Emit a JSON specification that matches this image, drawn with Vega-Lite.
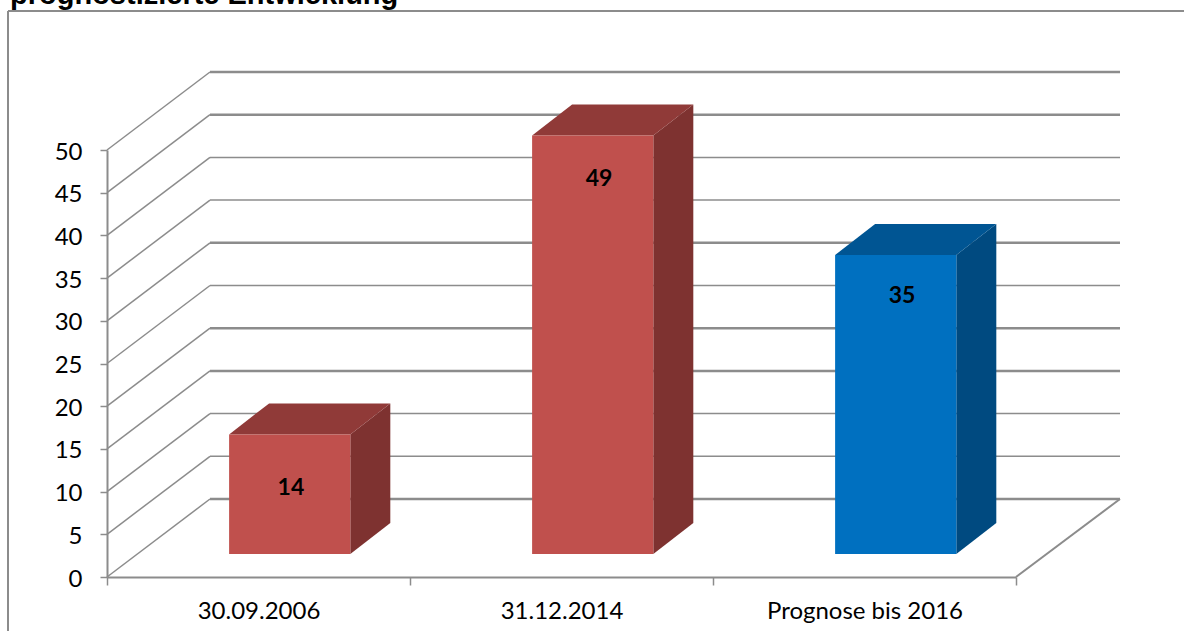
{
  "$schema": "https://vega.github.io/schema/vega-lite/v6.json",
  "autosize": {"type": "none"},
  "padding": {"left": 107, "top": 150, "right": 168, "bottom": 54},
  "width": 909,
  "height": 427,
  "background": "white",
  "config": {"view": {"stroke": null}},
  "datasets": {
    "bars": [
      {"category": "30.09.2006", "value": 14, "group": "Ist"},
      {"category": "31.12.2014", "value": 49, "group": "Ist"},
      {"category": "Prognose bis 2016", "value": 35, "group": "Prognose"}
    ],
    "ticks": [
      {"tick": 0}, {"tick": 5}, {"tick": 10}, {"tick": 15}, {"tick": 20}, {"tick": 25},
      {"tick": 30}, {"tick": 35}, {"tick": 40}, {"tick": 45}, {"tick": 50}
    ]
  },
  "resolve": {"scale": {"color": "independent"}},
  "layer": [
    {
      "data": {"name": "ticks"},
      "mark": {"type": "rule", "color": "#8c8c8c", "x2Offset": 103, "y2Offset": -78, "strokeWidth": 1.5},
      "encoding": {
        "x": {"datum": 0, "type": "quantitative", "scale": {"domain": [0, 3], "nice": false, "zero": false},
          "axis": {"title": null, "grid": false, "values": [0, 0.5, 1, 1.5, 2, 2.5, 3], "domainColor": "#8c8c8c", "domainWidth": 2, "tickColor": "#8c8c8c", "tickWidth": 1.5, "tickSize": 8,
            "tickOpacity": {"condition": {"test": "datum.value % 1 !== 0", "value": 0}, "value": 1},
            "labelExpr": "datum.value === 0.5 ? '30.09.2006' : datum.value === 1.5 ? '31.12.2014' : datum.value === 2.5 ? 'Prognose bis 2016' : ''",
            "labelFont": "Lato", "labelFontSize": 24, "labelColor": "#000000", "labelPadding": 14, "labelLimit": 400, "labelOverlap": false, "labelBound": false, "labelFlush": false}},
        "x2": {"datum": 0},
        "y": {"field": "tick", "type": "quantitative", "scale": {"domain": [0, 50], "nice": false},
          "axis": {"title": null, "grid": false, "values": [0, 5, 10, 15, 20, 25, 30, 35, 40, 45, 50], "domainColor": "#8c8c8c", "domainWidth": 2, "tickColor": "#8c8c8c", "tickWidth": 1.5, "tickSize": 7,
            "labelFont": "Lato", "labelFontSize": 24, "labelColor": "#000000", "labelPadding": 18, "labelOffset": 2}},
        "y2": {"field": "tick"}
      }
    },
    {
      "data": {"name": "ticks"},
      "mark": {"type": "rule", "color": "#8c8c8c", "xOffset": 103, "x2Offset": 104, "yOffset": -78, "y2Offset": -78},
      "encoding": {
        "x": {"datum": 0, "type": "quantitative"},
        "x2": {"datum": 3},
        "y": {"field": "tick", "type": "quantitative"},
        "strokeWidth": {"condition": {"test": "indexof([0, 15, 20, 30, 45, 50], datum.tick) >= 0", "value": 2.5}, "value": 1.5}
      }
    },
    {
      "data": {"values": [{"tick": 0}]},
      "mark": {"type": "rule", "color": "#8c8c8c", "strokeWidth": 2, "x2Offset": 104, "y2Offset": -78},
      "encoding": {
        "x": {"datum": 3, "type": "quantitative"},
        "x2": {"datum": 3},
        "y": {"field": "tick", "type": "quantitative"},
        "y2": {"field": "tick"}
      }
    },
    {
      "data": {"name": "bars"},
      "transform": [
        {"calculate": "indexof(['30.09.2006', '31.12.2014', 'Prognose bis 2016'], datum.category)", "as": "i"},
        {"calculate": "[0, 1]", "as": "k"},
        {"flatten": ["k"]},
        {"calculate": "datum.i + 0.803 + 0.132 * datum.k", "as": "px"},
        {"calculate": "2.7 + 3.63 * datum.k", "as": "low"},
        {"calculate": "datum.value + datum.low", "as": "high"}
      ],
      "mark": {"type": "area", "opacity": 1},
      "encoding": {
        "x": {"field": "px", "type": "quantitative"},
        "y": {"field": "high", "type": "quantitative"},
        "y2": {"field": "low"},
        "detail": {"field": "category"},
        "color": {"field": "group", "type": "nominal", "legend": null, "scale": {"domain": ["Ist", "Prognose"], "range": ["#7e3230", "#004a80"]}}
      }
    },
    {
      "data": {"name": "bars"},
      "transform": [
        {"calculate": "indexof(['30.09.2006', '31.12.2014', 'Prognose bis 2016'], datum.category)", "as": "i"},
        {"calculate": "[0, 1, 2, 3]", "as": "k"},
        {"flatten": ["k"]},
        {"calculate": "datum.i + 0.403 + [0, 0.132, 0.4, 0.532][datum.k]", "as": "px"},
        {"calculate": "datum.value + 2.7 + (datum.k === 0 ? 0 : 3.63)", "as": "high"},
        {"calculate": "datum.value + 2.7 + (datum.k === 3 ? 3.63 : 0)", "as": "low"}
      ],
      "mark": {"type": "area", "opacity": 1},
      "encoding": {
        "x": {"field": "px", "type": "quantitative"},
        "y": {"field": "high", "type": "quantitative"},
        "y2": {"field": "low"},
        "detail": {"field": "category"},
        "color": {"field": "group", "type": "nominal", "legend": null, "scale": {"domain": ["Ist", "Prognose"], "range": ["#903a38", "#005593"]}}
      }
    },
    {
      "data": {"name": "bars"},
      "transform": [
        {"calculate": "indexof(['30.09.2006', '31.12.2014', 'Prognose bis 2016'], datum.category)", "as": "i"},
        {"calculate": "datum.i + 0.403", "as": "x0"},
        {"calculate": "datum.i + 0.803", "as": "x1"},
        {"calculate": "datum.value + 2.7", "as": "top"},
        {"calculate": "2.7", "as": "base"}
      ],
      "mark": {"type": "rect", "opacity": 1},
      "encoding": {
        "x": {"field": "x0", "type": "quantitative"},
        "x2": {"field": "x1"},
        "y": {"field": "top", "type": "quantitative"},
        "y2": {"field": "base"},
        "color": {"field": "group", "type": "nominal", "legend": null, "scale": {"domain": ["Ist", "Prognose"], "range": ["#c0504d", "#0070c0"]}}
      }
    },
    {
      "data": {"name": "bars"},
      "transform": [
        {"calculate": "indexof(['30.09.2006', '31.12.2014', 'Prognose bis 2016'], datum.category)", "as": "i"},
        {"calculate": "datum.i + (datum.i === 0 ? 0.607 : 0.624)", "as": "px"},
        {"calculate": "datum.value - (datum.value === 14 ? 3.6 : datum.value === 49 ? 2.4 : 2.1)", "as": "py"}
      ],
      "mark": {"type": "text", "font": "Lato", "fontWeight": "bold", "fontSize": 23, "color": "#000000", "align": "center", "baseline": "middle"},
      "encoding": {
        "x": {"field": "px", "type": "quantitative"},
        "y": {"field": "py", "type": "quantitative"},
        "text": {"field": "value", "type": "quantitative"}
      }
    },
    {
      "data": {"values": [{"side": "top"}]},
      "mark": {"type": "rule", "color": "#8c8c8c", "strokeWidth": 2, "xOffset": -99, "x2Offset": 168, "yOffset": -139, "y2Offset": -139},
      "encoding": {
        "x": {"datum": 0, "type": "quantitative"},
        "x2": {"datum": 3},
        "y": {"datum": 50, "type": "quantitative"}
      }
    },
    {
      "data": {"values": [{"side": "left"}]},
      "mark": {"type": "rule", "color": "#8c8c8c", "strokeWidth": 2, "xOffset": -99, "x2Offset": -99, "yOffset": 54, "y2Offset": -139},
      "encoding": {
        "x": {"datum": 0, "type": "quantitative"},
        "y": {"datum": 0, "type": "quantitative"},
        "y2": {"datum": 50}
      }
    },
    {
      "data": {"values": [{"heading": "prognostizierte Entwicklung"}]},
      "mark": {"type": "text", "font": "Liberation Sans", "fontWeight": "bold", "fontSize": 29, "color": "#000000", "align": "left", "baseline": "alphabetic", "xOffset": -97, "yOffset": -146},
      "encoding": {
        "x": {"datum": 0, "type": "quantitative"},
        "y": {"datum": 50, "type": "quantitative"},
        "text": {"field": "heading", "type": "nominal"}
      }
    }
  ]
}
